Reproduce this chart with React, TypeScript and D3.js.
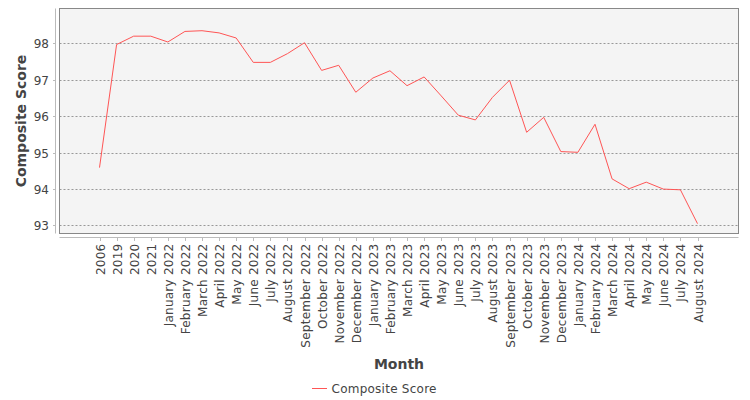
import React from 'react';
import * as d3 from 'd3';

const months = [
  '2006', '2019', '2020', '2021',
  'January 2022', 'February 2022', 'March 2022', 'April 2022', 'May 2022', 'June 2022',
  'July 2022', 'August 2022', 'September 2022', 'October 2022', 'November 2022', 'December 2022',
  'January 2023', 'February 2023', 'March 2023', 'April 2023', 'May 2023', 'June 2023',
  'July 2023', 'August 2023', 'September 2023', 'October 2023', 'November 2023', 'December 2023',
  'January 2024', 'February 2024', 'March 2024', 'April 2024', 'May 2024', 'June 2024',
  'July 2024', 'August 2024',
];

const compositeScore = [
  94.59, 97.97, 98.2, 98.2,
  98.04, 98.33, 98.35, 98.29, 98.15, 97.48,
  97.48, 97.72, 98.02, 97.26, 97.4, 96.66,
  97.05, 97.25, 96.84, 97.08, 96.56, 96.03,
  95.9, 96.52, 96.99, 95.56, 95.97, 95.03,
  95.01, 95.78, 94.28, 94.01, 94.19, 94.0,
  93.98, 93.05,
];

const yTicks = [93, 94, 95, 96, 97, 98];

const W = 750;
const H = 400;
const plot = { left: 59.5, top: 8.5, right: 738.5, bottom: 233.5 };
const font = '"DejaVu Sans", sans-serif';
const textColor = '#444444';
const lineColor = '#ff5555';

const App: React.FC = () => {
  const x = d3
    .scalePoint<string>()
    .domain(months)
    .range([plot.left + 40, plot.right - 41]);

  const y = d3
    .scaleLinear()
    .domain([92.78, 98.96])
    .range([plot.bottom, plot.top]);

  const line = d3
    .line<number>()
    .x((d, i) => x(months[i]) as number)
    .y((d) => y(d));

  const cx = (plot.left + plot.right) / 2;
  const cy = (plot.top + plot.bottom) / 2;

  return (
    <svg
      width={W}
      height={H}
      style={{ position: 'absolute', left: 0, top: 0, background: '#fff' }}
      fontFamily={font}
    >
      <rect
        x={plot.left}
        y={plot.top}
        width={plot.right - plot.left}
        height={plot.bottom - plot.top}
        fill="#f4f4f4"
      />
      {yTicks.map((t) => (
        <line
          key={'g' + t}
          x1={plot.left}
          x2={plot.right}
          y1={Math.round(y(t)) + 0.5}
          y2={Math.round(y(t)) + 0.5}
          stroke="#808080"
          strokeWidth={0.8}
          strokeDasharray="2,2"
        />
      ))}
      <path d={line(compositeScore) || ''} fill="none" stroke={lineColor} strokeWidth={1} />
      <rect
        x={plot.left}
        y={plot.top}
        width={plot.right - plot.left}
        height={plot.bottom - plot.top}
        fill="none"
        stroke="#888"
        strokeWidth={1}
      />

      {/* y axis */}
      <line x1={55.5} x2={55.5} y1={plot.top} y2={plot.bottom} stroke="#bbb" />
      {yTicks.map((t) => (
        <g key={'y' + t} transform={`translate(0,${Math.round(y(t)) + 0.5})`}>
          <line x1={53} x2={55.5} stroke="#bbb" />
          <text x={49} dy="0.35em" textAnchor="end" fontSize={12} fill={textColor}>
            {t}
          </text>
        </g>
      ))}
      <text
        transform={`translate(21,${cy}) rotate(-90)`}
        textAnchor="middle"
        dy="0.35em"
        fontSize={14}
        fontWeight="bold"
        fill={textColor}
      >
        Composite Score
      </text>

      {/* x axis */}
      <line x1={plot.left} x2={plot.right} y1={237.5} y2={237.5} stroke="#bbb" />
      {months.map((m) => {
        const px = Math.round(x(m) as number) + 0.5;
        return (
          <g key={m} transform={`translate(${px},0)`}>
            <line y1={237.5} y2={241} stroke="#bbb" />
            <text
              transform="translate(0,243.5) rotate(-90)"
              textAnchor="end"
              dy="0.35em"
              fontSize={12}
              letterSpacing={0.25}
              fill={textColor}
            >
              {m}
            </text>
          </g>
        );
      })}
      <text x={cx} y={369} textAnchor="middle" fontSize={14} fontWeight="bold" fill={textColor}>
        Month
      </text>

      {/* legend */}
      <line x1={312} x2={327} y1={388.5} y2={388.5} stroke={lineColor} />
      <text x={331.5} y={392.5} fontSize={12} letterSpacing={0.25} fill={textColor}>
        Composite Score
      </text>
    </svg>
  );
};

export default App;
